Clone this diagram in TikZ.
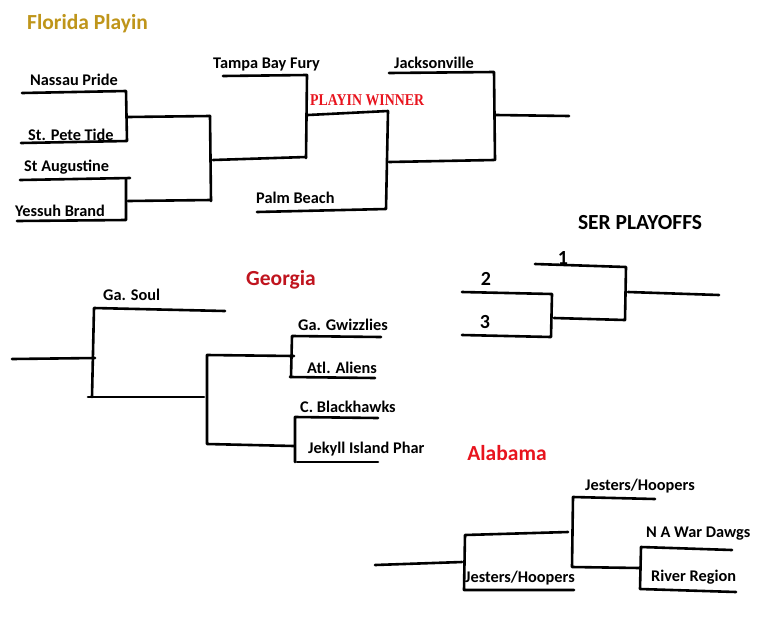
\documentclass[tikz,border=0pt]{standalone}
\usepackage{fontspec}
\setmainfont{Carlito}
\newfontfamily\serifbold{Liberation Serif}
\definecolor{gold}{HTML}{BF951A}
\definecolor{darkred}{HTML}{C0141E}
\definecolor{brightred}{HTML}{E8141E}
\tikzset{
  br/.style={line width=2.6pt, line cap=round, line join=round},
  team/.style={anchor=west, inner sep=0pt, font=\fontsize{16.3}{19}\selectfont\bfseries},
  seed/.style={anchor=center, inner sep=0pt, font=\fontsize{20}{24}\selectfont\bfseries},
  ttl/.style={anchor=center, inner sep=0pt, font=\fontsize{21.5}{25}\selectfont\bfseries},
}
\begin{document}
\begin{tikzpicture}[x=1pt,y=-1pt]
\useasboundingbox (0,0) rectangle (770,635);
\fill[white] (0,0) rectangle (770,635);

% ---------- Florida ----------
\node[ttl, text=gold, anchor=west] (fl) at (27,24) {Florida Playin};
\node[team] (t1) at (30,80) {Nassau Pride};
\node[team] (t2) at (28,135) {St. Pete Tide};
\node[team] (t3) at (24,167) {St Augustine};
\node[team] (t4) at (15,211) {Yessuh Brand};
\node[team] (t5) at (213,64) {Tampa Bay Fury};
\node[team] (t6) at (256,198) {Palm Beach};
\node[team] (t7) at (394,63) {Jacksonville};
\node[anchor=west, inner sep=0pt, text=brightred, font=\fontsize{16.5}{19}\selectfont\serifbold\bfseries] (pw) at (310,100) {\scalebox{0.84}[1]{PLAYIN WINNER}};

\draw[br] (22,93) -- (126,91) -- (127,141) -- (21,143);
\draw[br] (128,117) -- (210,116);
\draw[br] (20,180) -- (130,178);
\draw[br] (126,179) -- (126,220) -- (17,221);
\draw[br] (128,201) -- (211,200);
\draw[br] (210,116) -- (211,201);
\draw[br] (213,160) -- (306,157);
\draw[br] (223,76) -- (307,75) -- (306,158);
\draw[br] (308,115) -- (388,111) -- (386,209) -- (257,212);
\draw[br] (389,162) -- (494,160);
\draw[br] (389,73) -- (494,72) -- (495,160);
\draw[br] (496,115) -- (569,116);

% ---------- SER Playoffs ----------
\node[ttl] (ser) at (640,223) {SER PLAYOFFS};
\node[seed] (s1) at (563,258) {1};
\node[seed] (s2) at (486,279) {2};
\node[seed] (s3) at (485,322) {3};
\draw[br] (535,264) -- (626,267) -- (625,320) -- (554,318);
\draw[br] (462,292) -- (552,294) -- (551,337) -- (462,335);
\draw[br] (628,292) -- (719,295);

% ---------- Georgia ----------
\node[ttl, text=darkred] (ga) at (281,280) {Georgia};
\node[team] (g1) at (103,295) {Ga. Soul};
\node[team] (g2) at (298,325) {Ga. Gwizzlies};
\node[team] (g3) at (307,368) {Atl. Aliens};
\node[team] (g4) at (300,407) {C. Blackhawks};
\node[team] (g5) at (308,449) {Jekyll Island Phar};
\draw[br] (225,311) -- (94,308) -- (92,397);
\draw[br] (12,359) -- (95,358);
\draw[br] (88,397) -- (204,397);
\draw[br] (294,356) -- (207,355) -- (207,444) -- (294,446);
\draw[br] (381,337) -- (292,336) -- (291,377);
\draw[br] (290,377) -- (375,378);
\draw[br] (378,418) -- (295,417) -- (295,462);
\draw[br] (297,462) -- (378,462);

% ---------- Alabama ----------
\node[ttl, text=brightred] (al) at (507,453) {Alabama};
\node[team] (a1) at (585,486) {Jesters/Hoopers};
\node[team] (a2) at (646,534) {N A War Dawgs};
\node[team] (a3) at (465,578) {Jesters/Hoopers};
\node[team] (a4) at (651,577) {River Region};
\draw[br] (375,565) -- (462,562);
\draw[br] (568,532) -- (465,535) -- (464,590) -- (574,590);
\draw[br] (655,499) -- (573,497) -- (572,567) -- (640,568);
\draw[br] (732,550) -- (641,547) -- (640,589) -- (736,592);
\end{tikzpicture}
\end{document}
